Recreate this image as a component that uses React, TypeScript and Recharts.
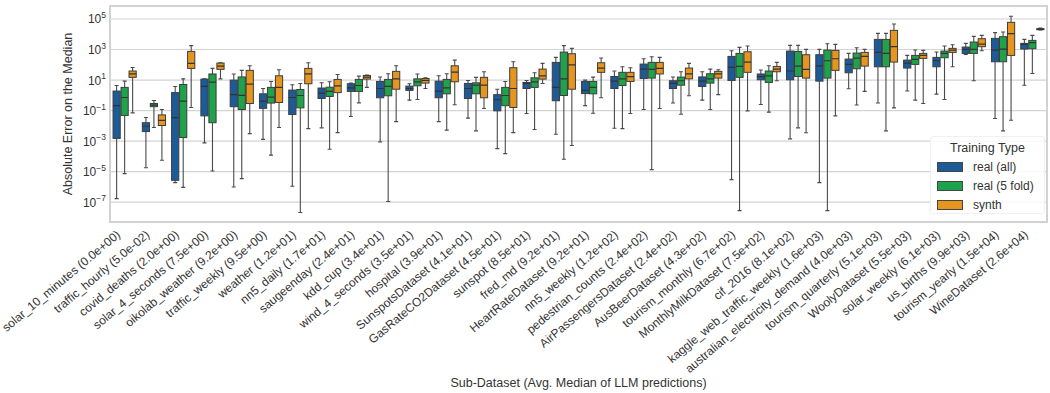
import { BarChart, Bar, XAxis, YAxis, CartesianGrid, Legend, ReferenceArea } from "recharts";

const FONT = "'Liberation Sans', Arial, sans-serif";
const CHART_W = 1050;
const CHART_H = 393;
const PLOT_TOP = 6;
const Y_W = 110;
const MARGIN_R = 3;
const X_H = 171;

const categories = [
  "solar_10_minutes (0.0e+00)",
  "traffic_hourly (5.0e-02)",
  "covid_deaths (2.0e+00)",
  "solar_4_seconds (7.5e+00)",
  "oikolab_weather (9.2e+00)",
  "traffic_weekly (9.5e+00)",
  "weather (1.2e+01)",
  "nn5_daily (1.7e+01)",
  "saugeenday (2.4e+01)",
  "kdd_cup (3.4e+01)",
  "wind_4_seconds (3.5e+01)",
  "hospital (3.9e+01)",
  "SunspotsDataset (4.1e+01)",
  "GasRateCO2Dataset (4.5e+01)",
  "sunspot (8.5e+01)",
  "fred_md (9.2e+01)",
  "HeartRateDataset (9.2e+01)",
  "nn5_weekly (1.2e+02)",
  "pedestrian_counts (2.4e+02)",
  "AirPassengersDataset (2.4e+02)",
  "AusBeerDataset (4.3e+02)",
  "tourism_monthly (6.7e+02)",
  "MonthlyMilkDataset (7.5e+02)",
  "cif_2016 (8.1e+02)",
  "kaggle_web_traffic_weekly (1.6e+03)",
  "australian_electricity_demand (4.0e+03)",
  "tourism_quarterly (5.1e+03)",
  "WoolyDataset (5.5e+03)",
  "solar_weekly (6.1e+03)",
  "us_births (9.9e+03)",
  "tourism_yearly (1.5e+04)",
  "WineDataset (2.6e+04)",
];

// [lower whisker, q1, median, q3, upper whisker]
const realAll = [
  [1.7e-7, 1.5e-3, 0.21, 1.9, 4.4],
  [1.8e-5, 4.2e-3, 9.4e-3, 0.016, 0.035],
  [1.9e-6, 2.7e-6, 0.035, 1.5, 3.8],
  [7.6e-4, 0.045, 3.8, 11.5, 12],
  [9.8e-7, 0.18, 1.1, 9.9, 25],
  [1.3e-3, 0.14, 0.41, 1.25, 2.8],
  [1.1e-6, 0.055, 0.72, 2.2, 4.9],
  [7.4e-3, 0.62, 1.4, 3.0, 6.6],
  [0.041, 1.8, 3.1, 5.7, 6.3],
  [8.9e-4, 0.69, 2.8, 8.1, 16],
  [0.48, 2.1, 2.8, 4.0, 5.7],
  [0.019, 0.69, 1.9, 8.5, 19],
  [0.032, 0.62, 2.8, 6.0, 9.4],
  [3.2e-4, 0.096, 0.51, 1.1, 2.5],
  [0.064, 2.8, 6.0, 7.0, 9.4],
  [2.8e-3, 0.44, 3.3, 143, 304],
  [0.21, 1.3, 2.1, 8.1, 9.9],
  [7.0e-3, 2.8, 8.5, 17, 39],
  [0.117, 12.7, 52, 111, 249],
  [0.31, 2.8, 6.0, 9.0, 16],
  [0.48, 3.8, 8.5, 16, 35],
  [3.0e-6, 9.4, 67, 354, 834],
  [0.25, 10.4, 17, 25, 45],
  [1.4e-3, 10.4, 39, 793, 1870],
  [1.9e-6, 8.5, 86, 456, 1020],
  [2.7, 30, 106, 237, 557],
  [0.31, 74, 649, 4600, 11500],
  [1.9, 61, 129, 203, 412],
  [1.2, 74, 184, 304, 680],
  [479, 557, 1020, 1450, 2520],
  [0.03, 158, 922, 5380, 12700],
  [4.6, 1070, 2170, 2520, 4600],
];

const realFold = [
  [7.4e-6, 0.048, 0.72, 3.3, 8.5],
  [7.7e-3, 0.18, 0.23, 0.29, 0.46],
  [9.3e-7, 1.7e-3, 0.41, 5.1, 12],
  [1.1e-5, 0.016, 7.3, 25, 58],
  [3.5e-6, 0.117, 1.0, 16, 43],
  [1.2e-4, 0.31, 0.76, 3.3, 8.1],
  [2.1e-8, 0.15, 0.97, 2.4, 6.0],
  [2.9e-4, 0.84, 1.8, 3.4, 7.7],
  [0.32, 1.8, 4.4, 11, 18],
  [1.1e-7, 0.93, 3.8, 11, 26],
  [0.53, 4.2, 7.7, 12, 25],
  [5.2e-3, 1.25, 3.1, 11, 26],
  [4.7e-3, 1.25, 4.6, 6.6, 15],
  [1.5e-4, 0.21, 0.97, 3.3, 8.1],
  [5.7e-3, 3.3, 7.7, 14, 30],
  [6.4e-5, 0.97, 12, 680, 1800],
  [0.067, 1.25, 3.3, 8.1, 15.6],
  [6.6e-3, 4.4, 12, 32, 74],
  [1.35e-5, 13.4, 50, 143, 337],
  [0.058, 4.6, 9.0, 15.6, 35],
  [0.117, 6.3, 12, 26, 52],
  [2.8e-8, 15, 78, 557, 1380],
  [0.079, 7.0, 19, 39, 86],
  [7.4e-3, 17, 82, 750, 1870],
  [2.8e-8, 13.4, 184, 922, 2400],
  [0.23, 55, 275, 586, 1310],
  [4.7e-3, 74, 557, 4600, 11500],
  [0.48, 106, 225, 412, 922],
  [0.53, 290, 557, 793, 1690],
  [9.0, 557, 1020, 3090, 7280],
  [4.7e-3, 158, 1070, 6920, 14000],
  [27, 1130, 2790, 3970, 8470],
];

const synth = [
  [0.071, 15, 25, 39, 67],
  [5.5e-5, 0.0105, 0.023, 0.052, 0.117],
  [0.16, 58, 123, 750, 1800],
  [12, 50, 82, 129, 136],
  [3.1e-3, 0.29, 5.4, 43, 86],
  [7.7e-3, 0.34, 3.3, 19, 47],
  [6.6e-3, 5.7, 25, 58, 136],
  [3.6e-3, 1.5, 4.2, 11, 23],
  [3.3, 11.5, 15.6, 20, 21],
  [0.019, 2.5, 12, 37, 86],
  [2.8, 6.3, 9.4, 12.7, 14],
  [0.24, 7.7, 33, 86, 203],
  [0.136, 0.69, 4.6, 15, 35],
  [3.6e-3, 0.16, 2.8, 64, 158],
  [6.0, 11.5, 19, 52, 123],
  [5.1e-4, 2.5, 100, 530, 1190],
  [0.69, 32, 61, 136, 275],
  [0.064, 8.1, 17, 32, 64],
  [0.136, 25, 58, 143, 304],
  [0.93, 12, 25, 61, 123],
  [1.1, 13.4, 25, 37, 47],
  [0.096, 32, 150, 716, 1690],
  [9.0, 35, 52, 78, 143],
  [3.5e-3, 13.4, 50, 456, 1020],
  [0.045, 43, 249, 877, 2170],
  [1.8, 82, 354, 649, 1020],
  [0.15, 150, 1530, 18000, 47000],
  [0.29, 262, 412, 557, 877],
  [74, 649, 922, 1190, 2070],
  [834, 1530, 2290, 5110, 8470],
  [0.023, 412, 10900, 60400, 150000],
  [19000, 21000, 22000, 23200, 25600],
];

const yTicks = [1e-7, 1e-5, 1e-3, 1e-1, 1e1, 1e3, 1e5];
const yDomain = [5e-9, 7.1e5];

const series = [
  { key: "all", name: "real (all)", color: "#1d5a98" },
  { key: "fold", name: "real (5 fold)", color: "#1ea24b" },
  { key: "syn", name: "synth", color: "#e6961f" },
];

const rows = categories.map((name, i) => ({
  name,
  all: realAll[i],
  fold: realFold[i],
  syn: synth[i],
}));

const BAND = (CHART_W - Y_W - MARGIN_R) / categories.length;

const makeBox = (key: string, fill: string) => (p: any) => {
  const s: number[] = p.payload?.[key];
  if (!s) return <g />;
  const top = Math.min(p.y, p.y + p.height);
  const bottom = Math.max(p.y, p.y + p.height);
  const lo = Math.log10(s[0]);
  const hi = Math.log10(s[4]);
  const py = (v: number) =>
    hi === lo ? top : bottom - ((Math.log10(v) - lo) / (hi - lo)) * (bottom - top);
  const cx = p.x + p.width / 2;
  const cap = p.width * 0.25;
  const q1 = py(s[1]);
  const med = py(s[2]);
  const q3 = py(s[3]);
  const line = "#4a4a4a";
  return (
    <g>
      <line x1={cx} x2={cx} y1={bottom} y2={q1} stroke={line} strokeWidth={1.1} />
      <line x1={cx} x2={cx} y1={q3} y2={top} stroke={line} strokeWidth={1.1} />
      <line x1={cx - cap} x2={cx + cap} y1={top} y2={top} stroke={line} strokeWidth={1.1} />
      <line x1={cx - cap} x2={cx + cap} y1={bottom} y2={bottom} stroke={line} strokeWidth={1.1} />
      <rect
        x={p.x + 0.4}
        y={q3}
        width={p.width - 0.8}
        height={Math.max(q1 - q3, 1)}
        fill={fill}
        stroke="#3d3d3d"
        strokeWidth={1}
      />
      <line x1={p.x + 0.4} x2={p.x + p.width - 0.4} y1={med} y2={med} stroke="#333" strokeWidth={1.2} />
    </g>
  );
};

const XTick = (props: any) => {
  const { x, y, payload } = props;
  const ax = x - 3.5;
  const ay = y + 14;
  return (
    <text
      x={ax}
      y={ay}
      transform={`rotate(-40 ${ax} ${ay})`}
      textAnchor="end"
      fontSize={12}
      fontFamily={FONT}
      fill="#333"
    >
      {payload.value}
    </text>
  );
};

const TopTick = (props: any) => {
  const { x } = props;
  const minor = [-0.4, -0.2, 0.2, 0.4];
  return (
    <g stroke="#555" strokeWidth={0.8}>
      <line x1={x} x2={x} y1={PLOT_TOP} y2={PLOT_TOP + 3.5} />
      {minor.map((m) => (
        <line key={m} x1={x + m * BAND} x2={x + m * BAND} y1={PLOT_TOP} y2={PLOT_TOP + 2} />
      ))}
    </g>
  );
};

const YTick = (props: any) => {
  const { x, y, payload } = props;
  const e = Math.round(Math.log10(payload.value));
  return (
    <text x={x - 4} y={y + 4.5} textAnchor="end" fontSize={12} fontFamily={FONT} fill="#333">
      10
      <tspan dy={-5.5} fontSize={8.5}>
        {e < 0 ? "\u2212" + -e : String(e)}
      </tspan>
    </text>
  );
};

const YTitle = (props: any) => {
  const vb = props.viewBox ?? { x: 0, y: PLOT_TOP, width: Y_W, height: CHART_H - X_H - PLOT_TOP };
  const x = vb.x + 71.5;
  const y = vb.y + vb.height / 2;
  return (
    <text
      x={x}
      y={y}
      transform={`rotate(-90 ${x} ${y})`}
      textAnchor="middle"
      fontSize={12.5}
      fontFamily={FONT}
      fill="#333"
    >
      Absolute Error on the Median
    </text>
  );
};

const XTitle = (props: any) => {
  const vb = props.viewBox ?? { x: Y_W, y: CHART_H - X_H, width: CHART_W - Y_W - MARGIN_R, height: X_H };
  return (
    <text
      x={vb.x + vb.width / 2}
      y={vb.y + 164.5}
      textAnchor="middle"
      fontSize={12.5}
      fontFamily={FONT}
      fill="#333"
    >
      Sub-Dataset (Avg. Median of LLM predictions)
    </text>
  );
};

const LegendBox = () => (
  <div
    style={{
      position: "relative",
      width: 115,
      height: 78,
      background: "rgba(255,255,255,0.85)",
      border: "1px solid #f0f0f0",
      borderRadius: 3,
      boxSizing: "border-box",
      fontFamily: FONT,
      color: "#333",
    }}
  >
    <div
      style={{
        position: "absolute",
        top: 4,
        left: 0,
        right: 0,
        textAlign: "center",
        fontSize: 12.5,
        lineHeight: "14px",
      }}
    >
      Training Type
    </div>
    {series.map((s, i) => (
      <div
        key={s.key}
        style={{ position: "absolute", left: 6, top: 24 + i * 19, height: 11, display: "flex", alignItems: "center" }}
      >
        <span
          style={{
            display: "inline-block",
            width: 26,
            height: 10,
            background: s.color,
            border: "1px solid #444",
            boxSizing: "border-box",
          }}
        />
        <span style={{ marginLeft: 10, fontSize: 12, lineHeight: "12px" }}>{s.name}</span>
      </div>
    ))}
  </div>
);

export default function App() {
  return (
    <div style={{ position: "absolute", left: 0, top: 0, width: CHART_W, height: CHART_H, background: "#fff" }}>
      <BarChart
        width={CHART_W}
        height={CHART_H}
        data={rows}
        margin={{ top: PLOT_TOP, right: MARGIN_R, bottom: 0, left: 0 }}
        barCategoryGap="9%"
        barGap={0}
      >
        <CartesianGrid vertical={false} stroke="#d4d4d4" strokeWidth={1.2} />
        <ReferenceArea y1={yDomain[0]} y2={yDomain[1]} fill="none" stroke="#d2d2d2" strokeWidth={2} ifOverflow="visible" />
        <XAxis
          dataKey="name"
          interval={0}
          height={X_H}
          tick={<XTick />}
          tickLine={false}
          tickSize={0}
          tickMargin={0}
          axisLine={false}
          label={<XTitle />}
        />
        <XAxis
          xAxisId="top"
          orientation="top"
          dataKey="name"
          interval={0}
          height={0}
          tick={<TopTick />}
          tickLine={false}
          tickSize={0}
          tickMargin={0}
          axisLine={false}
        />
        <YAxis
          type="number"
          scale="log"
          domain={yDomain}
          allowDataOverflow
          ticks={yTicks}
          width={Y_W}
          tick={<YTick />}
          tickLine={false}
          tickSize={0}
          tickMargin={0}
          axisLine={false}
          label={<YTitle />}
        />
        {series.map((s) => (
          <Bar
            key={s.key}
            name={s.name}
            dataKey={(d: any) => [d[s.key][0], d[s.key][4]]}
            fill={s.color}
            shape={makeBox(s.key, s.color)}
            isAnimationActive={false}
          />
        ))}
        <Legend
          layout="vertical"
          align="center"
          verticalAlign="middle"
          wrapperStyle={{ position: "absolute", left: 930, top: 136, width: 115, height: 78 }}
          content={() => <LegendBox />}
        />
      </BarChart>
    </div>
  );
}
